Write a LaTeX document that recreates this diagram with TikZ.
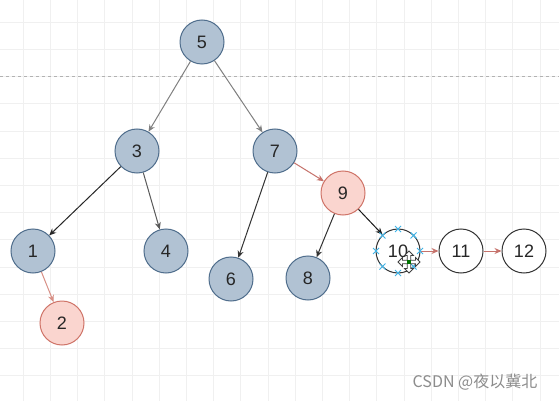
\documentclass[tikz,border=0pt]{standalone}
\usepackage{fontspec}
\setmainfont{Liberation Sans}
\newfontfamily\cjkfont{Noto Sans CJK SC}
\usepackage{xcolor}
\usetikzlibrary{arrows.meta,positioning,calc}

\definecolor{bluefill}{HTML}{B1C2D3}
\definecolor{blueedge}{HTML}{4F6D8C}
\definecolor{redfill}{HTML}{FAD5CF}
\definecolor{rededge}{HTML}{CF7468}
\definecolor{redline}{HTML}{C6726B}
\definecolor{selblue}{HTML}{3DB3E8}

\begin{document}
\begin{tikzpicture}[x=1pt,y=-1pt,->,>={Stealth[length=7pt,width=6pt]},
                    line width=1pt,node distance=18pt]
  \tikzstyle{gridline}=[-,line width=0.6pt,black!6]
  \tikzstyle{tree}=[circle,draw=blueedge,fill=bluefill,minimum size=44pt,
                    inner sep=0pt,font=\fontsize{18}{20}\selectfont,text=black!85]
  \tikzstyle{added}=[tree,draw=rededge,fill=redfill]
  \tikzstyle{plain}=[tree,draw=black!80,fill=white]

  \useasboundingbox (0,0) rectangle (559,401);
  \fill[white] (0,0) rectangle (559,401);
  % background grid and page break
  \foreach \i in {0,...,19}
    \draw[gridline] ({23+27.2*\i},0) -- ({23+27.2*\i},401);
  \foreach \j in {0,...,14}
    \draw[gridline] (0,{22+27.2*\j}) -- (559,{22+27.2*\j});
  \draw[-,black!30,dashed,line width=0.8pt] (0,76) -- (559,76);

  \node[tree]  (n5)  at (202,42)  {5};
  \node[tree]  (n3)  at (137,151) {3};
  \node[tree]  (n7)  at (275,151) {7};
  \node[added] (n9)  at (343,193) {9};
  \node[tree]  (n1)  at (33,251)  {1};
  \node[tree]  (n4)  at (166,251) {4};
  \node[tree]  (n6)  at (231,279) {6};
  \node[tree]  (n8)  at (308,278) {8};
  \node[added] (n2)  at (62,323)  {2};
  \node[plain] (n10) at (398,251) {10};
  \node[plain] (n11) [right=of n10] {11};
  \node[plain] (n12) [right=of n11] {12};

  \path (n5) edge [black!50] (n3)
        (n5) edge [black!50] (n7)
        (n3) edge [black!85] (n1)
        (n3) edge [black!65] (n4)
        (n7) edge [black!80] (n6)
        (n7) edge [redline]  (n9)
        (n9) edge [black!80] (n8)
        (n9) edge [black!90] (n10)
        (n1) edge [rededge!80] (n2)
        (n10) edge [redline] (n11)
        (n11) edge [redline] (n12);

  % selection handles and move cursor on node 10
  \foreach \a in {0,45,...,315}
    \draw[-,selblue,line width=0.9pt] ($(n10)+(\a:22)+(-3,-3)$) -- ++(6,6)
                                      ($(n10)+(\a:22)+(-3,3)$) -- ++(6,-6);
  \coordinate (mv) at (409,262);
  \draw[-,fill=white,draw=black!75,line width=0.8pt,shift={(mv)}]
    (0,-11) -- (4.5,-6.5) -- (1.8,-6.5) -- (1.8,-1.8) -- (6.5,-1.8)
    -- (6.5,-4.5) -- (11,0) -- (6.5,4.5) -- (6.5,1.8) -- (1.8,1.8)
    -- (1.8,6.5) -- (4.5,6.5) -- (0,11) -- (-4.5,6.5) -- (-1.8,6.5)
    -- (-1.8,1.8) -- (-6.5,1.8) -- (-6.5,4.5) -- (-11,0) -- (-6.5,-4.5)
    -- (-6.5,-1.8) -- (-1.8,-1.8) -- (-1.8,-6.5) -- (-4.5,-6.5) -- cycle;
  \fill[green!45!black,shift={(mv)}] (-1.8,-1.8) rectangle (1.8,1.8);

  \node[font=\cjkfont\fontsize{16}{18}\selectfont,text=black!45]
    (mark) at (475,382) {CSDN @夜以冀北};
\end{tikzpicture}
\end{document}
